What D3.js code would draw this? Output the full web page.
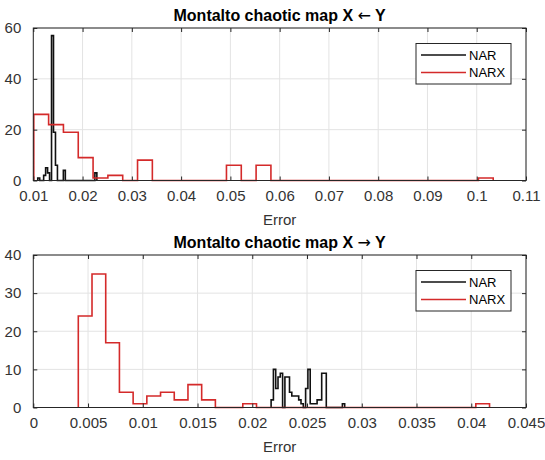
<!DOCTYPE html>
<html>
<head>
<meta charset="utf-8">
<script src="https://cdn.jsdelivr.net/npm/d3@7"></script>
<style>
    body { margin: 0; background: #fff; }
    svg { display: block; font-family: "Liberation Sans", Arial, sans-serif; }
</style>
</head>
<body>
<div id="chart-div"></div>
<script>
// histogram bins (first edge, bin width, counts)
const topNarStart = 0.0109;
const topNarWidth = 0.0004;
const topNarCounts = [1, 0, 0, 2, 5, 3, 0, 57, 19, 6, 0, 0, 0, 4, 0, 0, 0, 0, 0, 0, 0, 0, 0, 0, 0, 0, 0, 0, 0, 3];

const topNarxStart = 0.0101;
const topNarxWidth = 0.003008;
const topNarxCounts = [26, 22, 19, 9, 1, 2, 0, 8, 0, 0, 0, 0, 0, 6, 0, 6, 0, 0, 0, 0, 0, 0, 0, 0, 0, 0, 0, 0, 0, 0, 1];

const botNarStart = 0.02172;
const botNarWidth = 0.00021;
const botNarCounts = [2, 10, 5, 8, 9, 0, 8, 8, 4, 3, 3, 3, 2, 1, 0, 5, 10, 1, 1, 1, 2, 2, 9, 9, 0, 0, 0, 0, 0, 0, 0, 1];

const botNarxStart = 0.00411;
const botNarxWidth = 0.001252;
const botNarxCounts = [24, 35, 17, 4, 1, 3, 4, 2, 6, 2, 0, 0, 1, 0, 0, 0, 0, 0, 0, 0, 0, 0, 0, 0, 0, 0, 0, 0, 0, 1];

const topXTicks = [0.01, 0.02, 0.03, 0.04, 0.05, 0.06, 0.07, 0.08, 0.09, 0.1, 0.11];
const topXLabels = ['0.01', '0.02', '0.03', '0.04', '0.05', '0.06', '0.07', '0.08', '0.09', '0.1', '0.11'];
const topYTicks = [0, 20, 40, 60];
const botXTicks = [0, 0.005, 0.01, 0.015, 0.02, 0.025, 0.03, 0.035, 0.04, 0.045];
const botXLabels = ['0', '0.005', '0.01', '0.015', '0.02', '0.025', '0.03', '0.035', '0.04', '0.045'];
const botYTicks = [0, 10, 20, 30, 40];

const seriesNames = ['NAR', 'NARX'];
const seriesColors = ['#111111', '#d42a2a'];

const w = 545;
const h = 460;
const left = 33.3;
const right = 526;

const svg = d3.select('#chart-div')
              .append('svg')
              .attr('width', w)
              .attr('height', h);

svg.append('rect')
   .attr('width', w)
   .attr('height', h)
   .attr('fill', '#fff');

const stairs = (start, width, counts) => {
    const pts = [[start, 0]];
    counts.forEach((c, i) => {
        pts.push([start + i * width, c]);
        pts.push([start + (i + 1) * width, c]);
    });
    pts.push([start + counts.length * width, 0]);
    return pts;
}

const drawPanel = (cfg) => {
    const x = d3.scaleLinear().domain(cfg.xDomain).range([left, right]);
    const y = d3.scaleLinear().domain(cfg.yDomain).range([cfg.bottom, cfg.top]);
    const g = svg.append('g');

    // grid
    g.selectAll('.vgrid')
     .data(cfg.xTicks)
     .enter()
     .append('line')
     .attr('x1', d => x(d))
     .attr('x2', d => x(d))
     .attr('y1', cfg.top)
     .attr('y2', cfg.bottom)
     .attr('stroke', '#e3e3e3')
     .attr('stroke-width', 1);

    g.selectAll('.hgrid')
     .data(cfg.yTicks)
     .enter()
     .append('line')
     .attr('x1', left)
     .attr('x2', right)
     .attr('y1', d => y(d))
     .attr('y2', d => y(d))
     .attr('stroke', '#e3e3e3')
     .attr('stroke-width', 1);

    const line = d3.line().x(d => x(d[0])).y(d => y(d[1]));

    cfg.series.forEach((s, i) => {
        g.append('path')
         .attr('d', line(stairs(s.start, s.width, s.counts)))
         .attr('fill', 'none')
         .attr('stroke', seriesColors[i])
         .attr('stroke-width', 1.6)
         .attr('stroke-linejoin', 'miter');
    });

    // inward ticks on all four sides
    const tickLen = 4;
    const xAxisB = d3.axisBottom(x).tickValues(cfg.xTicks).tickSize(-tickLen).tickFormat((d, i) => cfg.xLabels[i]).tickPadding(10);
    const xAxisT = d3.axisTop(x).tickValues(cfg.xTicks).tickSize(-tickLen).tickFormat('');
    const yAxisL = d3.axisLeft(y).tickValues(cfg.yTicks).tickSize(-tickLen).tickPadding(12);
    const yAxisR = d3.axisRight(y).tickValues(cfg.yTicks).tickSize(-tickLen).tickFormat('');

    const axes = [
        [xAxisB, 'translate(0,' + cfg.bottom + ')'],
        [xAxisT, 'translate(0,' + cfg.top + ')'],
        [yAxisL, 'translate(' + left + ',0)'],
        [yAxisR, 'translate(' + right + ',0)']
    ];
    axes.forEach(a => {
        const ag = g.append('g')
                    .attr('transform', a[1])
                    .call(a[0]);
        ag.select('.domain').remove();
        ag.selectAll('line').attr('stroke', '#262626');
        ag.selectAll('text')
          .attr('fill', '#333')
          .style('font-size', '15px')
          .style('font-family', '"Liberation Sans", Arial, sans-serif');
    });

    g.append('rect')
     .attr('x', left)
     .attr('y', cfg.top)
     .attr('width', right - left)
     .attr('height', cfg.bottom - cfg.top)
     .attr('fill', 'none')
     .attr('stroke', '#262626')
     .attr('stroke-width', 1);

    const title = g.append('text')
                   .attr('x', (left + right) / 2)
                   .attr('y', cfg.top - 7.5)
                   .attr('text-anchor', 'middle')
                   .attr('font-weight', 'bold')
                   .attr('font-size', '16px')
                   .attr('fill', '#000');
    title.append('tspan').text(cfg.title[0]);
    title.append('tspan')
         .attr('font-family', '"DejaVu Sans", sans-serif')
         .attr('font-weight', 'normal')
         .text(cfg.title[1]);
    title.append('tspan').text(cfg.title[2]);

    g.append('text')
     .attr('x', (left + right) / 2)
     .attr('y', cfg.bottom + 44.5)
     .attr('text-anchor', 'middle')
     .attr('font-size', '15px')
     .attr('fill', '#333')
     .text('Error');

    // legend
    const lx = 416;
    const ly = cfg.top + 15.5;
    g.append('rect')
     .attr('x', lx)
     .attr('y', ly)
     .attr('width', 95)
     .attr('height', 40.5)
     .attr('fill', '#fff')
     .attr('stroke', '#262626')
     .attr('stroke-width', 1);

    seriesNames.forEach((name, i) => {
        const yy = ly + 11.5 + i * 17.5;
        g.append('line')
         .attr('x1', lx + 5)
         .attr('x2', lx + 50)
         .attr('y1', yy)
         .attr('y2', yy)
         .attr('stroke', seriesColors[i])
         .attr('stroke-width', 1.6);
        g.append('text')
         .attr('x', lx + 53)
         .attr('y', yy + 4.6)
         .attr('font-size', '13px')
         .attr('fill', '#000')
         .text(name);
    });
}

drawPanel({
    title: ['Montalto chaotic map X ', '\u2190', ' Y'],
    top: 28,
    bottom: 180.5,
    xDomain: [0.01, 0.11],
    yDomain: [0, 60],
    xTicks: topXTicks,
    xLabels: topXLabels,
    yTicks: topYTicks,
    series: [
        { start: topNarStart, width: topNarWidth, counts: topNarCounts },
        { start: topNarxStart, width: topNarxWidth, counts: topNarxCounts }
    ]
});

drawPanel({
    title: ['Montalto chaotic map X ', '\u2192', ' Y'],
    top: 255,
    bottom: 407.5,
    xDomain: [0, 0.045],
    yDomain: [0, 40],
    xTicks: botXTicks,
    xLabels: botXLabels,
    yTicks: botYTicks,
    series: [
        { start: botNarStart, width: botNarWidth, counts: botNarCounts },
        { start: botNarxStart, width: botNarxWidth, counts: botNarxCounts }
    ]
});
</script>
</body>
</html>
